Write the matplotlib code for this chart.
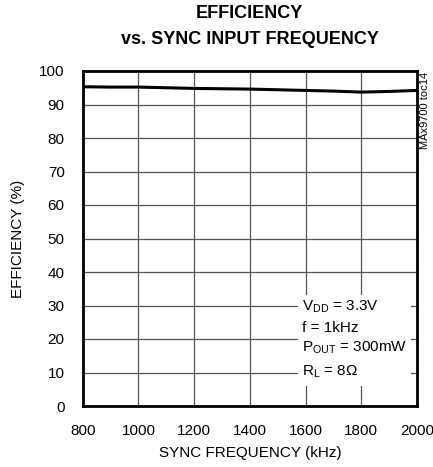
import numpy as np
import matplotlib
matplotlib.use("Agg")
import matplotlib.pyplot as plt

plt.rcParams['font.family'] = ['Liberation Sans', 'DejaVu Sans']

# data
freq_khz = [800, 900, 1000, 1100, 1200, 1300, 1400, 1500, 1600, 1700, 1800, 1900, 2000]
efficiency = [95.3, 95.2, 95.2, 95.0, 94.8, 94.7, 94.6, 94.4, 94.2, 94.0, 93.7, 93.9, 94.2]
x_ticks = [800, 1000, 1200, 1400, 1600, 1800, 2000]
y_ticks = [0, 10, 20, 30, 40, 50, 60, 70, 80, 90, 100]

fig = plt.figure(figsize=(4.33, 4.67), dpi=100)
ax = fig.add_axes([82.7 / 433, 1 - 406 / 467, (417 - 82.7) / 433, (406 - 71) / 467])

ax.plot(freq_khz, efficiency, color='black', linewidth=2.2, zorder=3)

ax.set_xlim(800, 2000)
ax.set_ylim(0, 100)
ax.set_xticks(x_ticks)
ax.set_yticks(y_ticks)
ax.grid(True, color='#555555', linewidth=0.9)
ax.tick_params(length=0, labelsize=11)
ax.tick_params(axis='x', pad=13)
ax.tick_params(axis='y', pad=13)
for s in ax.spines.values():
    s.set_linewidth(2)

ax.set_xlabel("SYNC FREQUENCY (kHz)", fontsize=11, labelpad=6)
ax.set_ylabel("EFFICIENCY (%)", fontsize=11, labelpad=10)

cx = 0.5 * (82.7 + 417) / 433
fig.text(cx, 1 - 14 / 467, "EFFICIENCY", ha='center', va='center',
         fontsize=13, fontweight='bold')
fig.text(cx, 1 - 40 / 467, "vs. SYNC INPUT FREQUENCY", ha='center',
         va='center', fontsize=13, fontweight='bold')

fig.text(419.5 / 433, 1 - 72 / 467, "MAx9700 toc14", rotation=90, ha='left', va='top',
         fontsize=8)

# annotation block with white background over the grid
ax.add_patch(plt.Rectangle((1572, 6), 406, 27, facecolor='white', edgecolor='none', zorder=2))
ax.text(1588, 29.6, r"V$_{\mathregular{DD}}$ = 3.3V", fontsize=11, va='center', zorder=4)
ax.text(1588, 23.3, "f = 1kHz", fontsize=11, va='center', zorder=4)
ax.text(1588, 17.4, r"P$_{\mathregular{OUT}}$ = 300mW", fontsize=11, va='center', zorder=4)
ax.text(1588, 10.2, r"R$_{\mathregular{L}}$ = 8Ω", fontsize=11, va='center', zorder=4)

plt.savefig("out.png", dpi=100)
